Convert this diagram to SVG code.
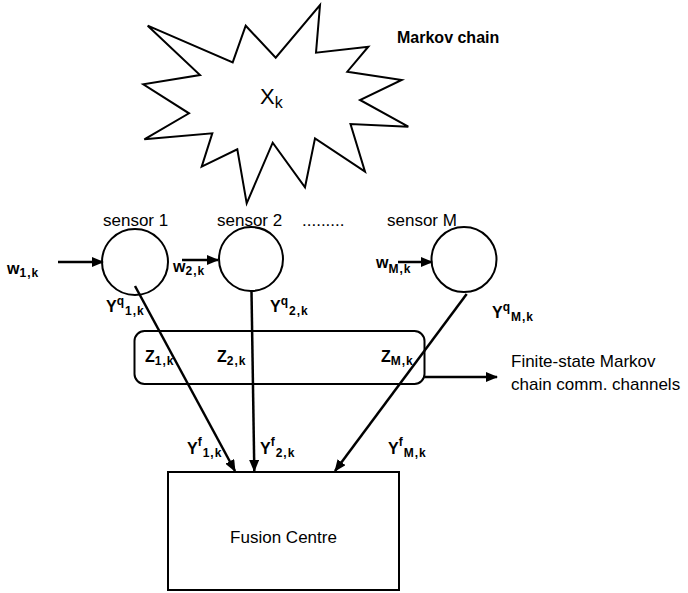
<svg xmlns="http://www.w3.org/2000/svg" width="688" height="593" viewBox="0 0 688 593">
<style>
  .shape{fill:#fff;stroke:#000;stroke-width:2}
  .cn{fill:none;stroke:#000;stroke-width:2.5}
  .t{font-family:"Liberation Sans",Arial,sans-serif;fill:#000}
  .r{font-size:17px}
  .b{font-size:16px;font-weight:bold}
  .s{font-size:12px;font-weight:bold;letter-spacing:1px}
</style>
<defs>
  <marker id="ah" markerUnits="userSpaceOnUse" markerWidth="12" markerHeight="10" refX="11" refY="5" orient="auto">
    <path d="M0,0 L12,5 L0,10 z" fill="#000"/>
  </marker>
</defs>
<rect width="688" height="593" fill="#fff"/>
<g id="markov-chain">
  <polygon class="shape" points="147.7,25.7 232.7,62.3 245.7,25.7 275.7,57.7 320,5 316,52.7 368.3,46.7 347.3,71.7 401.7,80 360,100 408.3,126.7 350.5,124 365,171.7 315,138.3 305,187.3 272.7,142.7 246.7,203.3 237.3,149.3 201.7,166.7 212.3,133.3 144.3,139.3 189,113.3 143.3,84.3 200,75"/>
  <text class="t" x="260" y="104" font-size="22">X<tspan font-size="16" dy="4">k</tspan></text>
  <text class="t" x="397" y="43" font-size="16" font-weight="bold">Markov chain</text>
</g>
<g id="sensor1">
  <circle class="shape" cx="135" cy="262" r="33"/>
  <text class="t r" x="103" y="226">sensor 1</text>
</g>
<g id="sensor2">
  <circle class="shape" cx="251" cy="259" r="32"/>
  <text class="t r" x="217" y="226">sensor 2</text>
</g>
<text class="t r" x="302" y="226">.........</text>
<g id="sensorM">
  <circle class="shape" cx="464" cy="259.5" r="32.5"/>
  <text class="t r" x="387" y="226">sensor M</text>
</g>
<g id="channels">
  <rect class="shape" x="134.5" y="331" width="290" height="53" rx="10" ry="10"/>
  <text class="t b" x="145" y="362">Z<tspan class="s" dy="3">1,k</tspan></text>
  <text class="t b" x="217" y="362">Z<tspan class="s" dy="3">2,k</tspan></text>
  <text class="t b" x="381" y="362">Z<tspan class="s" dy="3">M,k</tspan></text>
</g>
<g id="fusion-centre">
  <rect class="shape" x="168" y="472" width="231" height="118" stroke-width="2.5"/>
  <text class="t r" x="283.5" y="543" text-anchor="middle">Fusion Centre</text>
</g>
<g id="connectors">
  <line class="cn" x1="58" y1="262" x2="103" y2="262" marker-end="url(#ah)"/>
  <line class="cn" x1="182" y1="260" x2="218" y2="260" marker-end="url(#ah)"/>
  <line class="cn" x1="398" y1="262" x2="432" y2="262" marker-end="url(#ah)"/>
  <line class="cn" x1="135" y1="286" x2="235" y2="471" marker-end="url(#ah)"/>
  <line class="cn" x1="251.5" y1="291" x2="254.3" y2="471" marker-end="url(#ah)"/>
  <line class="cn" x1="466.7" y1="294" x2="335" y2="471" marker-end="url(#ah)"/>
  <line class="cn" x1="424.5" y1="377" x2="497" y2="377" stroke-width="2" marker-end="url(#ah)"/>
  <text class="t b" x="7" y="274">w<tspan class="s" dy="3">1,k</tspan></text>
  <text class="t b" x="173" y="272">w<tspan class="s" dy="3">2,k</tspan></text>
  <text class="t b" x="376" y="268">w<tspan class="s" dy="5">M,k</tspan></text>
  <text class="t b" x="106" y="312">Y<tspan class="s" dy="-7">q</tspan><tspan class="s" dy="10">1,k</tspan></text>
  <text class="t b" x="270" y="312">Y<tspan class="s" dy="-7">q</tspan><tspan class="s" dy="10">2,k</tspan></text>
  <text class="t b" x="492" y="318">Y<tspan class="s" dy="-7">q</tspan><tspan class="s" dy="10">M,k</tspan></text>
  <text class="t b" x="187" y="454">Y<tspan class="s" dy="-8">f</tspan><tspan class="s" dy="11">1,k</tspan></text>
  <text class="t b" x="260" y="454">Y<tspan class="s" dy="-8">f</tspan><tspan class="s" dy="11">2,k</tspan></text>
  <text class="t b" x="388" y="454">Y<tspan class="s" dy="-8">f</tspan><tspan class="s" dy="11">M,k</tspan></text>
  <text class="t r" x="511" y="367">Finite-state Markov</text>
  <text class="t r" x="511" y="390">chain comm. channels</text>
</g>
</svg>
